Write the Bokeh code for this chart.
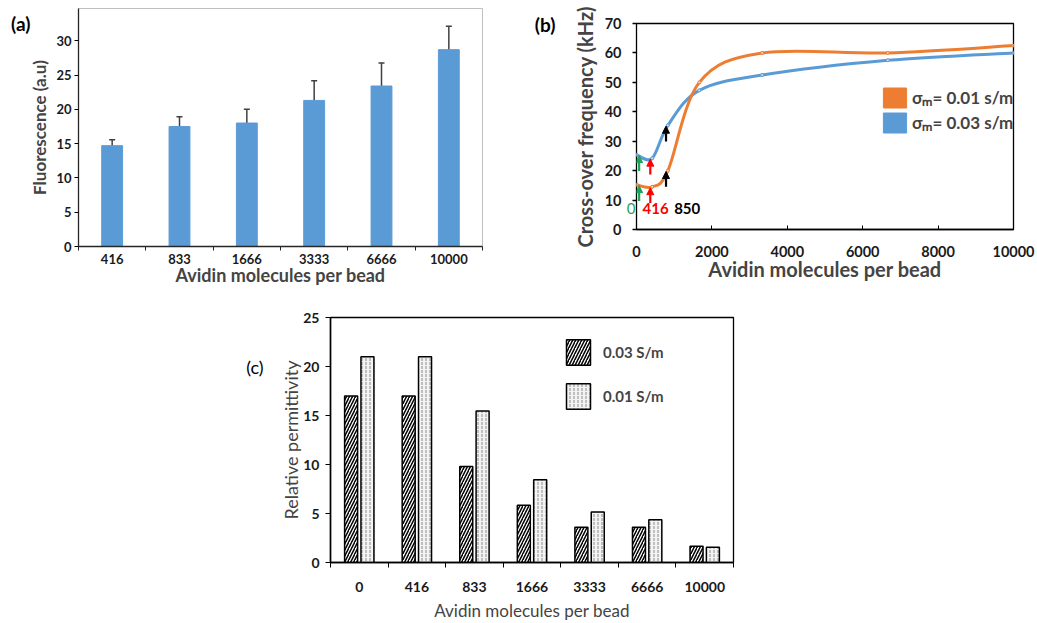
from bokeh.plotting import figure
from bokeh.models import (ColumnDataSource, Range1d, FixedTicker, Whisker, TeeHead,
                          Arrow, NormalHead, Label, Legend, LegendItem, Spacer, LinearAxis)
from bokeh.layouts import column, row
from bokeh.embed import file_html
from bokeh.resources import INLINE

# ---------------- data ----------------
# (a) fluorescence
cats_a = ["416", "833", "1666", "3333", "6666", "10000"]
fluor = [14.7, 17.5, 18.0, 21.3, 23.4, 28.7]
fluor_err = [0.85, 1.4, 2.0, 2.85, 3.35, 3.4]

# (b) cross-over frequency
avidin_b = [0, 416, 833, 1666, 3333, 6666, 10000]
freq_001 = [15.2, 14.5, 20.0, 50.0, 60.0, 60.0, 62.5]
freq_003 = [25.4, 24.2, 35.4, 47.3, 52.5, 57.5, 60.0]
b_xticks = [0, 2000, 4000, 6000, 8000, 10000]
b_yticks = [0, 10, 20, 30, 40, 50, 60, 70]
arrow_pts = [0, 416, 833]
arrow_labels = ["0", "416", "850"]
arrow_colors = ["#1fa35a", "#ff0000", "#000000"]

# (c) relative permittivity
cats_c = ["0", "416", "833", "1666", "3333", "6666", "10000"]
perm_003 = [17.0, 17.0, 9.8, 5.85, 3.6, 3.6, 1.65]
perm_001 = [21.0, 21.0, 15.45, 8.45, 5.15, 4.35, 1.55]

FONT = "Lato"
BLUE = "#5B9BD5"
ORANGE = "#ED7D31"


def style_axis(ax, size, bold=True):
    ax.major_label_text_font = FONT
    ax.major_label_text_font_size = size
    ax.major_label_text_font_style = "bold" if bold else "normal"
    ax.major_label_text_color = "#1a1a1a"
    ax.axis_label_text_font = FONT


def panel_tag(p, text, y, size, style, standoff, color="#000000", minor=None, minor_out=0):
    tag = LinearAxis(ticker=FixedTicker(ticks=[y], minor_ticks=minor or []),
                     major_label_overrides={y: text},
                     axis_line_color=None, major_tick_line_color=None, major_tick_out=0,
                     minor_tick_line_color="#000000" if minor else None,
                     minor_tick_out=minor_out, minor_tick_in=0, minor_tick_line_width=1.3,
                     major_label_standoff=standoff,
                     major_label_text_font=FONT, major_label_text_font_size=size,
                     major_label_text_font_style=style, major_label_text_color=color)
    p.add_layout(tag, "left")


# ---------------- panel (a) ----------------
pa = figure(width=520, height=290, output_backend="svg", toolbar_location=None,
            x_range=Range1d(0, len(cats_a)), y_range=Range1d(0, 34.7), frame_align=False)
pa.min_border_left = 78
pa.min_border_right = 38
pa.min_border_top = 8
pa.min_border_bottom = 44
pa.xgrid.visible = False
pa.ygrid.visible = False
pa.outline_line_color = "#bfbfbf"

xa = [i + 0.5 for i in range(len(cats_a))]
src_a = ColumnDataSource(dict(x=xa, top=fluor,
                              upper=[v + e for v, e in zip(fluor, fluor_err)],
                              lower=[v - e for v, e in zip(fluor, fluor_err)]))
pa.vbar(x="x", top="top", width=0.31, source=src_a, fill_color=BLUE, line_color=BLUE)
pa.add_layout(Whisker(source=src_a, base="x", upper="upper", lower="lower",
                      line_color="#404040", line_width=1.5,
                      upper_head=TeeHead(size=6, line_color="#404040", line_width=1.5),
                      lower_head=TeeHead(size=6, line_color="#404040", line_width=1.5)))

ax = pa.xaxis[0]
ax.ticker = FixedTicker(ticks=xa, minor_ticks=list(range(len(cats_a) + 1)))
ax.major_label_overrides = {x: c for x, c in zip(xa, cats_a)}
ax.major_tick_out = 0
ax.major_tick_in = 0
ax.minor_tick_out = 4
ax.minor_tick_in = 0
ax.major_label_standoff = 3
ax.axis_line_color = "#262626"
ax.axis_line_width = 1.3
ax.minor_tick_line_color = "#262626"
ax.axis_label = "Avidin molecules per bead"
ax.axis_label_text_font_size = "18px"
ax.axis_label_text_font_style = "bold"
ax.axis_label_standoff = -3
style_axis(ax, "13px")

ay = pa.yaxis[0]
ay.ticker = FixedTicker(ticks=[0, 5, 10, 15, 20, 25, 30])
ay.minor_tick_line_color = None
ay.major_tick_out = 4
ay.major_tick_in = 0
ay.major_label_standoff = 3
ay.axis_line_color = "#262626"
ay.axis_line_width = 1.3
ay.axis_label = "Fluorescence (a.u)"
ay.axis_label_text_font_size = "17px"
ay.axis_label_text_font_style = "bold"
ay.axis_label_standoff = 3
style_axis(ay, "13px")

panel_tag(pa, "(a)", 32.5, "19px", "bold", -4)

# ---------------- panel (b) ----------------
pb = figure(width=517, height=290, output_backend="svg", toolbar_location=None,
            x_range=Range1d(0, 10000), y_range=Range1d(0, 70), frame_align=False)
pb.min_border_left = 116
pb.min_border_right = 24
pb.min_border_top = 23
pb.min_border_bottom = 61
pb.xgrid.visible = False
pb.ygrid.visible = False
pb.outline_line_color = "#000000"
pb.outline_line_width = 1.3


def bezier_parts(xs, ys):
    n = len(xs)
    out = dict(x0=[], y0=[], x1=[], y1=[], cx0=[], cy0=[], cx1=[], cy1=[])
    for i in range(n - 1):
        a = max(i - 1, 0)
        d = min(i + 2, n - 1)
        out["x0"].append(xs[i]); out["y0"].append(ys[i])
        out["x1"].append(xs[i + 1]); out["y1"].append(ys[i + 1])
        out["cx0"].append(xs[i] + (xs[i + 1] - xs[a]) / 6.0)
        out["cy0"].append(ys[i] + (ys[i + 1] - ys[a]) / 6.0)
        out["cx1"].append(xs[i + 1] - (xs[d] - xs[i]) / 6.0)
        out["cy1"].append(ys[i + 1] - (ys[d] - ys[i]) / 6.0)
    return ColumnDataSource(out)


for ys, col in ((freq_003, BLUE), (freq_001, ORANGE)):
    pb.bezier(x0="x0", y0="y0", x1="x1", y1="y1", cx0="cx0", cy0="cy0", cx1="cx1", cy1="cy1",
              source=bezier_parts(avidin_b, ys), line_color=col, line_width=3, line_cap="round")
    pb.scatter(avidin_b, ys, size=3, marker="circle", fill_color="#dddddd", line_color=col)

# arrows
arrow_shift = {"0": 70, "416": -50, "850": -50}
for xp, lab, col in zip(arrow_pts, arrow_labels, arrow_colors):
    i = avidin_b.index(xp)
    for ys in (freq_001, freq_003):
        tip = ys[i] - 0.3
        xa_ = xp + arrow_shift[lab]
        pb.add_layout(Arrow(x_start=xa_, y_start=tip - 5.2, x_end=xa_, y_end=tip,
                            line_color=col, line_width=2.2,
                            end=NormalHead(size=7, fill_color=col, line_color=col, line_width=1)))
# the "416" and "850" markers sit inside the frame; the green "0" is drawn on the left axis
lab_x = {"416": 505, "850": 1345}
for lab, col in zip(arrow_labels[1:], arrow_colors[1:]):
    pb.add_layout(Label(x=lab_x[lab], y=7.0, text=lab, text_color=col, text_font=FONT,
                        text_font_size="15px", text_font_style="bold",
                        text_baseline="middle", text_align="center"))

# legend with square swatches (dummy bars kept outside the visible range)
e_src = ColumnDataSource(dict(x=[-99999], top=[1]))
r_or = pb.vbar(x="x", top="top", width=1, source=e_src, fill_color=ORANGE, line_color=ORANGE)
r_bl = pb.vbar(x="x", top="top", width=1, source=e_src, fill_color=BLUE, line_color=BLUE)
leg_b = Legend(items=[LegendItem(label="σₘ= 0.01 s/m", renderers=[r_or]),
                      LegendItem(label="σₘ= 0.03 s/m", renderers=[r_bl])],
               location=(244, 94), glyph_width=29, glyph_height=25, spacing=0,
               label_standoff=3, padding=0, margin=0, border_line_color=None,
               background_fill_alpha=0, label_text_font=FONT, label_text_font_size="17px",
               label_text_font_style="bold")
pb.add_layout(leg_b)

bx = pb.xaxis[0]
bx.ticker = FixedTicker(ticks=b_xticks)
bx.major_tick_in = 4
bx.major_tick_out = 0
bx.minor_tick_line_color = None
bx.major_label_standoff = 16
bx.axis_line_width = 1.3
bx.axis_label = "Avidin molecules per bead"
bx.axis_label_text_font_size = "20px"
bx.axis_label_text_font_style = "bold"
bx.axis_label_standoff = -3
style_axis(bx, "14.5px")

# green "0" marker label + y tick marks on a thin axis next to the frame
panel_tag(pb, arrow_labels[0], 7.0, "15px", "normal", -3, color=arrow_colors[0],
          minor=b_yticks, minor_out=4)

by = LinearAxis(ticker=FixedTicker(ticks=b_yticks))
pb.yaxis[0].visible = False
by.major_tick_line_color = None
by.minor_tick_line_color = None
by.axis_line_color = None
by.major_tick_out = 0
by.major_label_standoff = 2
by.axis_label = "Cross-over frequency (kHz)"
by.axis_label_text_font_size = "20px"
by.axis_label_text_font_style = "bold"
by.axis_label_standoff = 5
style_axis(by, "14.5px")
pb.add_layout(by, "left")

panel_tag(pb, "(b)", 69.7, "19px", "bold", 14)

# ---------------- panel (c) ----------------
pc = figure(width=510, height=333, output_backend="svg", toolbar_location=None,
            x_range=Range1d(0, len(cats_c)), y_range=Range1d(0, 25), frame_align=False)
pc.min_border_left = 95
pc.min_border_right = 12
pc.min_border_top = 27
pc.min_border_bottom = 61
pc.xgrid.visible = False
pc.ygrid.visible = False
pc.outline_line_color = "#000000"
pc.outline_line_width = 1.3

xc = [i + 0.5 for i in range(len(cats_c))]
r_h = pc.vbar(x=[v - 0.142 for v in xc], top=perm_003, width=0.226,
              fill_color="white", line_color="black", line_width=1.5,
              hatch_pattern="/", hatch_color="black", hatch_scale=6, hatch_weight=1.5)
r_d = pc.vbar(x=[v + 0.142 for v in xc], top=perm_001, width=0.226,
              fill_color="#f3f3f3", line_color="black", line_width=1.5,
              hatch_pattern=":", hatch_color="#8c8c8c", hatch_scale=4, hatch_weight=1)
leg_c = Legend(items=[LegendItem(label="0.03 S/m", renderers=[r_h]),
                      LegendItem(label="0.01 S/m", renderers=[r_d])],
               location=(233, 150), glyph_width=30, glyph_height=32, spacing=12,
               label_standoff=10, padding=0, margin=0, border_line_color=None,
               background_fill_alpha=0, label_text_font=FONT, label_text_font_size="15px",
               label_text_font_style="bold")
pc.add_layout(leg_c)

cx = pc.xaxis[0]
cx.ticker = FixedTicker(ticks=xc, minor_ticks=list(range(len(cats_c) + 1)))
cx.major_label_overrides = {x: c for x, c in zip(xc, cats_c)}
cx.major_tick_out = 0
cx.major_tick_in = 0
cx.minor_tick_out = 5
cx.minor_tick_in = 0
cx.minor_tick_line_color = "black"
cx.major_label_standoff = 14
cx.axis_line_width = 1.5
cx.axis_label = "Avidin molecules per bead"
cx.axis_label_text_font_size = "17px"
cx.axis_label_text_font_style = "normal"
cx.axis_label_standoff = 5
style_axis(cx, "14px")

cy = pc.yaxis[0]
cy.ticker = FixedTicker(ticks=[0, 5, 10, 15, 20, 25])
cy.minor_tick_line_color = None
cy.major_tick_out = 5
cy.major_tick_in = 0
cy.major_label_standoff = 6
cy.axis_line_width = 1.5
cy.axis_label = "Relative permittivity"
cy.axis_label_text_font_size = "18px"
cy.axis_label_text_font_style = "normal"
cy.axis_label_standoff = -2
style_axis(cy, "14px")

panel_tag(pc, "(c)", 19.9, "18px", "normal", 14)

layout = column(row(pa, pb), row(Spacer(width=235, height=333), pc))
open("out.html", "w").write(file_html(layout, INLINE))
